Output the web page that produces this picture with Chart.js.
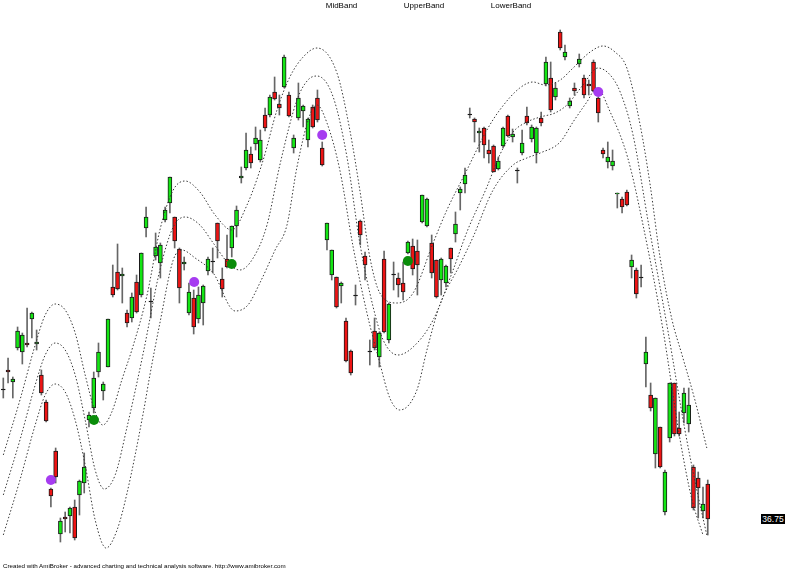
<!DOCTYPE html>
<html>
<head>
<meta charset="utf-8">
<script src="https://cdn.jsdelivr.net/npm/chart.js@4.4.1/dist/chart.umd.min.js"></script>
<style>
  html, body { margin: 0; padding: 0; background: #fff; }
  #wrap { position: relative; width: 800px; height: 571px; overflow: hidden; }
  .txt { position: absolute; font-family: "Liberation Sans", Arial, sans-serif; color: #000; white-space: nowrap; }
  .lg { top: 1.5px; font-size: 8px; line-height: 8px; transform: translateX(-50%); }
  #footer { left: 3px; top: 563px; font-size: 6.2px; line-height: 6.4px; }
  #price { left: 761px; width: 24px; height: 10px; background: #000; color: #fff; font-size: 8.5px; line-height: 10px; text-align: center; }
</style>
</head>
<body>
<div id="wrap">
  <canvas id="chart" width="800" height="571"></canvas>
  <div class="txt lg" style="left:341.5px">MidBand</div>
  <div class="txt lg" style="left:424px">UpperBand</div>
  <div class="txt lg" style="left:511px">LowerBand</div>
  <div class="txt" id="footer">Created with AmiBroker - advanced charting and technical analysis software. http://www.amibroker.com</div>
  <div class="txt" id="price"></div>
</div>
<script>
// daily bars
const open = [
  49.65, 51.65, 50.45, 53.85, 53.45, 54.35, 56.75, 54.25, 51.15, 48.45,
  39.75, 43.55, 35.25, 36.95, 37.05, 37.95, 39.15, 40.35, 46.65, 47.85,
  51.45, 49.55, 51.95, 59.95, 61.45, 61.05, 57.35, 56.85, 60.45, 59.15,
  65.85, 58.45, 63.05, 62.35, 66.65, 68.35, 66.95, 63.75, 62.25, 57.35,
  58.85, 56.75, 58.35, 61.55, 62.45, 66.35, 60.75, 62.75, 63.85, 66.05,
  70.85, 71.85, 73.25, 74.25, 72.65, 77.15, 77.15, 79.45, 78.25, 79.95,
  79.15, 73.85, 76.85, 77.55, 74.65, 77.95, 78.85, 73.85, 64.65, 61.15,
  60.95, 60.05, 56.55, 53.55, 59.05, 66.55, 63.05, 53.45, 55.55, 52.95,
  62.75, 54.65, 61.15, 60.85, 60.35, 63.35, 64.05, 63.55, 66.45, 66.05,
  64.35, 62.65, 60.65, 60.35, 63.85, 65.25, 69.35, 70.25, 77.15, 76.75,
  75.35, 75.85, 73.65, 74.05, 71.75, 74.05, 77.05, 74.95, 71.55, 73.35,
  77.05, 74.75, 73.35, 76.85, 80.25, 80.85, 78.95, 85.45, 82.95, 78.05,
  79.85, 82.25, 80.85, 80.25, 82.45, 78.85, 73.65, 72.45, 72.05, 69.25,
  68.75, 69.45, 61.95, 61.65, 60.85, 52.25, 49.15, 43.25, 45.95, 37.45,
  44.85, 50.35, 45.85, 47.35, 46.25, 41.95, 40.85, 37.55, 40.25
];
const high = [
  50.85, 52.85, 50.95, 55.95, 55.35, 57.85, 57.45, 55.65, 51.65, 48.65,
  39.85, 43.85, 36.85, 37.45, 37.95, 38.65, 40.65, 43.35, 47.45, 51.45,
  54.35, 50.45, 56.75, 62.15, 64.25, 61.85, 57.65, 59.35, 61.15, 63.35,
  67.95, 59.85, 65.35, 64.35, 67.95, 70.95, 66.95, 63.85, 62.95, 60.35,
  59.65, 59.95, 60.15, 62.95, 63.85, 66.35, 61.85, 65.15, 66.05, 68.05,
  71.95, 75.35, 73.95, 75.95, 75.65, 77.85, 79.15, 80.95, 79.15, 83.15,
  79.45, 75.15, 80.35, 78.15, 76.85, 78.15, 79.65, 74.45, 66.35, 63.65,
  60.95, 60.45, 56.85, 53.65, 60.15, 66.65, 63.45, 54.65, 56.85, 55.45,
  63.55, 58.35, 62.45, 61.35, 62.45, 64.55, 64.75, 64.65, 69.15, 68.85,
  65.15, 62.65, 62.85, 62.15, 63.85, 67.45, 69.95, 71.85, 77.85, 76.85,
  75.85, 75.95, 74.65, 74.15, 72.95, 75.95, 77.15, 75.75, 71.85, 75.65,
  77.95, 76.15, 75.95, 77.45, 82.95, 82.45, 80.35, 85.65, 84.15, 78.85,
  80.35, 83.25, 81.15, 80.65, 82.65, 78.95, 73.85, 74.45, 73.65, 69.35,
  68.95, 69.65, 63.15, 61.85, 62.15, 54.95, 50.35, 48.85, 45.95, 41.65,
  50.35, 50.35, 47.45, 49.85, 49.85, 42.15, 41.45, 39.95, 40.65
];
const low = [
  48.85, 50.35, 48.85, 53.65, 52.25, 53.95, 54.85, 53.65, 49.15, 46.45,
  37.95, 40.35, 34.45, 35.45, 35.35, 34.65, 37.15, 39.35, 45.95, 47.35,
  50.95, 48.65, 51.95, 58.95, 59.65, 58.35, 55.95, 56.45, 57.35, 58.95,
  64.95, 56.85, 62.65, 60.85, 66.45, 67.35, 63.85, 58.35, 61.65, 57.15,
  55.25, 56.35, 56.15, 61.15, 61.35, 62.85, 58.95, 61.85, 62.95, 64.95,
  70.35, 71.65, 71.85, 73.65, 72.45, 75.55, 76.95, 78.65, 77.15, 79.85,
  76.95, 73.35, 76.65, 75.95, 73.95, 75.85, 76.45, 72.05, 63.65, 60.65,
  57.85, 58.35, 52.45, 51.15, 58.15, 64.15, 60.65, 52.15, 53.65, 51.95,
  55.35, 54.35, 59.65, 58.95, 58.65, 63.25, 61.15, 59.15, 66.35, 65.95,
  60.85, 58.85, 59.15, 59.95, 61.35, 64.45, 67.65, 69.35, 76.85, 74.45,
  73.45, 72.85, 72.35, 71.45, 71.65, 73.85, 74.95, 74.45, 70.35, 73.15,
  76.15, 74.45, 72.35, 76.05, 80.05, 77.45, 78.65, 83.65, 82.65, 77.85,
  79.15, 81.95, 78.85, 79.15, 79.45, 76.45, 72.85, 71.85, 71.65, 67.85,
  67.35, 68.05, 60.85, 58.85, 59.95, 49.95, 47.55, 41.85, 41.85, 37.15,
  44.45, 45.05, 45.05, 46.35, 45.45, 37.65, 36.85, 36.85, 35.15
];
const close = [
  49.65, 51.45, 50.75, 55.55, 55.15, 54.15, 57.35, 54.45, 49.35, 46.55,
  39.05, 40.95, 36.55, 36.75, 37.85, 34.85, 40.55, 41.95, 47.15, 50.85,
  53.45, 50.25, 56.75, 59.15, 59.75, 61.25, 56.35, 58.95, 57.45, 63.35,
  66.95, 58.45, 63.95, 64.15, 67.65, 70.95, 64.55, 59.85, 62.45, 59.45,
  55.95, 59.15, 60.05, 62.75, 62.45, 64.55, 59.75, 61.95, 66.05, 67.65,
  71.05, 73.65, 72.35, 74.85, 74.65, 75.85, 78.95, 78.75, 77.85, 82.95,
  77.05, 74.85, 78.85, 78.05, 76.75, 75.95, 76.65, 72.15, 66.35, 63.65,
  57.95, 60.35, 52.55, 51.35, 59.05, 65.15, 62.15, 53.45, 53.85, 55.35,
  55.45, 58.25, 61.15, 60.15, 59.45, 64.45, 61.75, 62.15, 69.15, 68.75,
  61.35, 58.95, 62.75, 62.05, 62.75, 66.25, 69.75, 71.15, 77.15, 76.45,
  75.55, 74.15, 73.25, 71.45, 72.55, 75.85, 75.05, 75.25, 71.55, 74.35,
  76.35, 75.95, 75.85, 76.35, 82.45, 77.65, 79.85, 83.85, 83.45, 78.55,
  79.55, 82.75, 79.15, 80.05, 79.55, 77.35, 73.25, 72.95, 72.55, 69.35,
  67.95, 68.15, 62.65, 59.25, 60.85, 53.45, 47.85, 48.85, 41.95, 41.45,
  50.35, 45.25, 45.25, 49.35, 48.15, 37.85, 39.85, 38.25, 36.75
];

// bands as [bar index, value]
const upperBand = [
  [0, 43.15], [3.5, 48.65], [6.7, 54.15], [8.8, 57.15], [10.9, 58.25], [13.0, 57.65], [15.1, 55.35],
  [17.2, 51.15], [19.3, 47.45], [20.9, 46.15], [22.8, 47.45], [24.9, 50.65], [27.2, 53.95], [30.2, 59.15],
  [32.9, 65.65], [35.7, 69.65], [38.2, 70.55], [41.3, 69.45], [44.5, 67.15], [48.0, 65.65], [51.2, 68.15],
  [54.6, 72.65], [57.5, 77.65], [60.2, 80.95], [63.0, 82.95], [65.9, 83.85], [70.1, 81.35], [72.8, 75.65],
  [74.9, 69.65], [77.0, 62.95], [79.1, 59.35], [82.7, 58.35], [86.1, 59.35], [90.3, 64.35], [93.2, 67.65],
  [97.4, 71.65], [101.6, 75.65], [104.3, 77.65], [108.5, 79.85], [111.3, 80.45], [113.8, 80.15], [117.0, 80.65],
  [119.7, 81.85], [123.3, 83.45], [126.0, 84.05], [128.5, 83.45], [131.0, 81.85], [133.8, 76.15], [135.9, 70.15],
  [138.0, 62.85], [140.5, 56.65], [142.6, 53.15], [145.3, 48.65], [147.8, 43.85]
];
const midBand = [
  [0, 39.15], [3.5, 44.65], [6.7, 50.15], [8.8, 53.15], [10.9, 54.35], [13.0, 53.65], [15.1, 51.15],
  [17.2, 46.65], [19.3, 41.65], [21.2, 39.75], [23.5, 41.15], [26.0, 45.95], [29.4, 53.35], [32.9, 61.65],
  [35.7, 65.95], [38.2, 66.95], [41.3, 66.15], [44.1, 64.35], [47.6, 62.15], [49.7, 61.65], [52.5, 62.85],
  [55.4, 66.15], [58.1, 72.15], [61.7, 78.65], [64.0, 80.65], [65.9, 81.05], [69.3, 78.95], [72.2, 72.95],
  [74.9, 64.35], [77.7, 57.95], [79.8, 54.65], [82.9, 53.15], [86.1, 53.95], [90.3, 56.65], [94.5, 61.65],
  [97.4, 65.45], [101.6, 69.95], [104.3, 73.15], [107.1, 75.45], [110.0, 76.45], [112.8, 76.95], [115.9, 77.35],
  [118.4, 78.15], [121.8, 80.15], [124.9, 81.85], [127.5, 81.15], [129.6, 79.45], [132.3, 75.15], [135.6, 66.15],
  [139.6, 55.65], [143.2, 45.65], [145.7, 39.65], [147.8, 35.15]
];
const lowerBand = [
  [0, 35.15], [3.5, 40.65], [6.7, 46.15], [8.8, 49.15], [10.9, 50.25], [13.0, 49.45], [15.1, 46.65],
  [17.2, 42.15], [19.3, 36.65], [21.6, 33.85], [23.9, 35.65], [26.0, 39.35], [29.4, 47.35], [30.8, 51.15],
  [32.9, 56.35], [35.7, 62.65], [37.5, 63.65], [40.3, 62.85], [44.1, 61.35], [48.7, 57.55], [51.4, 58.15],
  [53.9, 60.35], [57.1, 63.65], [59.6, 66.15], [61.7, 71.95], [64.4, 77.15], [65.9, 78.15], [68.0, 76.35],
  [70.7, 71.65], [73.5, 63.95], [76.4, 57.35], [79.1, 52.35], [81.2, 48.85], [83.3, 47.65], [86.9, 49.65],
  [89.0, 53.65], [91.7, 58.15], [95.9, 62.15], [98.7, 64.95], [102.9, 69.65], [107.1, 72.15], [110.0, 72.85],
  [112.8, 73.35], [117.0, 74.45], [119.7, 76.45], [122.6, 78.45], [124.7, 79.85], [127.5, 77.45], [131.2, 72.85],
  [134.4, 66.15], [138.6, 55.65], [142.2, 44.65], [144.7, 38.65], [147.0, 35.15]
];

// signal dots
const sellDots = [[10.0, 40.65], [40.1, 60.45], [67.0, 75.15], [125.0, 79.45]];
const buyDots = [[19.05, 46.65], [47.98, 62.25], [85.0, 62.55]];

const UP = '#14e614';
const DOWN = '#ee1414';
const LINE = '#3a3a3a';

const idx = open.map((v, i) => i);
const bodyColors = idx.map(i => close[i] > open[i] ? UP : (close[i] < open[i] ? DOWN : '#000'));
const pts = arr => arr.map(p => ({ x: p[0], y: p[1] }));

function band(arr) {
    return {
        type: 'line',
        data: pts(arr),
        borderColor: LINE,
        borderWidth: 1,
        borderDash: [1.5, 2],
        pointRadius: 0,
        fill: false,
        cubicInterpolationMode: 'monotone',
        order: 1
    };
}

const priceTag = {
    id: 'priceTag',
    afterDraw(chart) {
        const last = close[close.length - 1];
        const y = chart.scales.y.getPixelForValue(last);
        const el = document.getElementById('price');
        el.textContent = last.toFixed(2);
        el.style.top = (y - 5) + 'px';
    }
};

let ctx = document.getElementById('chart');
let myChart = new Chart(ctx, {
    type: 'bar',
    data: {
        datasets: [
            { type: 'scatter', data: pts(sellDots), pointRadius: 5, pointBackgroundColor: '#a63cf0', pointBorderWidth: 0, order: 0 },
            { type: 'scatter', data: pts(buyDots), pointRadius: 5, pointBackgroundColor: '#0a8c0a', pointBorderWidth: 0, order: 0 },
            band(midBand),
            band(upperBand),
            band(lowerBand),
            {
                type: 'bar',
                data: idx.map(i => ({ x: i, y: [open[i], close[i]] })),
                backgroundColor: bodyColors,
                borderColor: '#1a1a1a',
                borderWidth: 1,
                borderSkipped: false,
                barThickness: 4,
                minBarLength: 1,
                grouped: false,
                order: 2
            },
            {
                type: 'bar',
                data: idx.map(i => ({ x: i, y: [low[i], high[i]] })),
                backgroundColor: '#666',
                barThickness: 1,
                grouped: false,
                order: 3
            }
        ]
    },
    options: {
        responsive: false,
        animation: false,
        devicePixelRatio: 1,
        layout: { padding: 0, autoPadding: false },
        plugins: { legend: { display: false }, tooltip: { enabled: false } },
        scales: {
            x: { type: 'linear', offset: false, min: -0.693, max: 167.38, display: false },
            y: { min: 31.55, max: 88.65, display: false }
        }
    },
    plugins: [priceTag]
});
</script>
</body>
</html>
